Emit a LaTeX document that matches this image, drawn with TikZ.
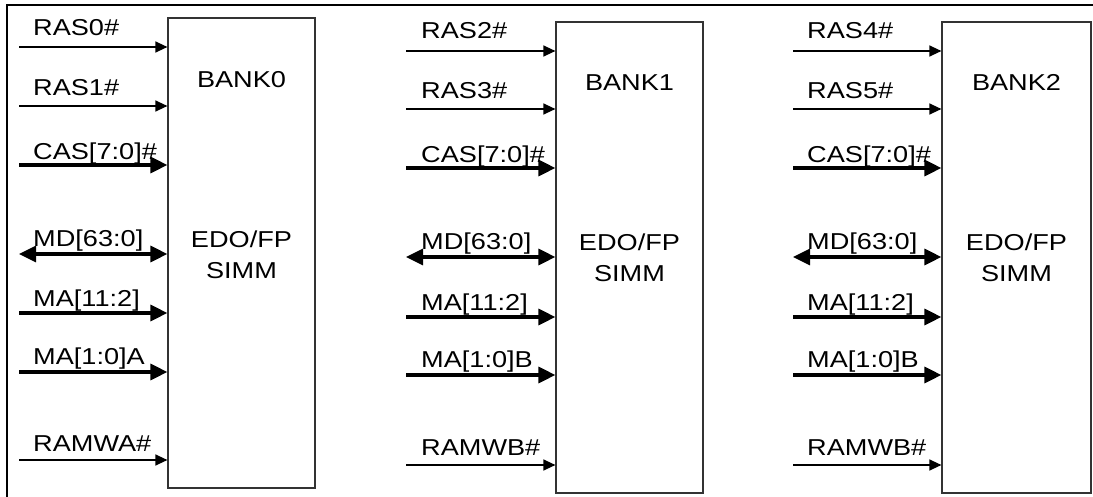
\documentclass[tikz,border=0pt]{standalone}
\usepackage{fontspec}
\setmainfont{Liberation Sans}[FakeStretch=1.18]
\usetikzlibrary{arrows.meta}
\tikzset{
  bankbox/.style={draw=black!80, line width=1.2pt, minimum width=147pt, inner sep=0pt},
  sig/.style={line width=1.3pt, -{Triangle[length=12pt,width=11pt]}},
  bus/.style={line width=3.2pt, -{Triangle[length=17pt,width=16pt]}},
  bibus/.style={line width=3.2pt, {Triangle[length=17pt,width=16pt]}-{Triangle[length=17pt,width=16pt]}},
  lbl/.style={anchor=base west, inner sep=0pt, font=\fontsize{23}{27}\selectfont},
  btxt/.style={anchor=base, inner sep=0pt, font=\fontsize{23}{27}\selectfont, align=center},
}
\begin{document}
\begin{tikzpicture}[x=1pt,y=-1pt]
\useasboundingbox (0,0) rectangle (1093,497);
\draw[line width=2.2pt] (7,497) -- (7,5) -- (1093,5);
% boxes
\node[bankbox, minimum height=470pt] (b0) at (241.5,253) {};
\node[bankbox, minimum height=471pt] (b1) at (629.5,257.5) {};
\node[bankbox, minimum height=471pt, minimum width=149pt] (b2) at (1016.5,257.5) {};
% box texts
\node[btxt] (t0a) at (b0.center |- 0,88) {BANK0};
\node[btxt] (t0b) at (b0.center |- 0,248) {EDO/FP};
\node[btxt] (t0c) at (b0.center |- 0,279) {SIMM};
\node[btxt] (t1a) at (b1.center |- 0,91) {BANK1};
\node[btxt] (t1b) at (b1.center |- 0,251) {EDO/FP};
\node[btxt] (t1c) at (b1.center |- 0,282) {SIMM};
\node[btxt] (t2a) at (b2.center |- 0,91) {BANK2};
\node[btxt] (t2b) at (b2.center |- 0,251) {EDO/FP};
\node[btxt] (t2c) at (b2.center |- 0,282) {SIMM};
% bank 0 signals
\coordinate (a0) at (19,47);
\coordinate (a1) at (19,106);
\coordinate (a2) at (19,165);
\coordinate (a3) at (19,254);
\coordinate (a4) at (19,313);
\coordinate (a5) at (19,372);
\coordinate (a6) at (19,460);
\draw[sig] (a0) -- (a0 -| b0.west);
\draw[sig] (a1) -- (a1 -| b0.west);
\draw[bus] (a2) -- (a2 -| b0.west);
\draw[bibus] (a3) -- (a3 -| b0.west);
\draw[bus] (a4) -- (a4 -| b0.west);
\draw[bus] (a5) -- (a5 -| b0.west);
\draw[sig] (a6) -- (a6 -| b0.west);
\node[lbl] (l00) at (33,36) {RAS0\#};
\node[lbl] (l01) at (33,96) {RAS1\#};
\node[lbl] (l02) at (33,160) {CAS[7:0]\#};
\node[lbl] (l03) at (33,247) {MD[63:0]};
\node[lbl] (l04) at (33,306) {MA[11:2]};
\node[lbl] (l05) at (33,364) {MA[1:0]A};
\node[lbl] (l06) at (33,451) {RAMWA\#};
% bank 1 signals
\coordinate (c0) at (406,51);
\coordinate (c1) at (406,109);
\coordinate (c2) at (406,168);
\coordinate (c3) at (406,257);
\coordinate (c4) at (406,317);
\coordinate (c5) at (406,375);
\coordinate (c6) at (406,465);
\draw[sig] (c0) -- (c0 -| b1.west);
\draw[sig] (c1) -- (c1 -| b1.west);
\draw[bus] (c2) -- (c2 -| b1.west);
\draw[bibus] (c3) -- (c3 -| b1.west);
\draw[bus] (c4) -- (c4 -| b1.west);
\draw[bus] (c5) -- (c5 -| b1.west);
\draw[sig] (c6) -- (c6 -| b1.west);
\node[lbl] (l10) at (421,39) {RAS2\#};
\node[lbl] (l11) at (421,99) {RAS3\#};
\node[lbl] (l12) at (421,163) {CAS[7:0]\#};
\node[lbl] (l13) at (421,250) {MD[63:0]};
\node[lbl] (l14) at (421,310) {MA[11:2]};
\node[lbl] (l15) at (421,367) {MA[1:0]B};
\node[lbl] (l16) at (421,455) {RAMWB\#};
% bank 2 signals
\coordinate (d0) at (793,51);
\coordinate (d1) at (793,109);
\coordinate (d2) at (793,168);
\coordinate (d3) at (793,257);
\coordinate (d4) at (793,317);
\coordinate (d5) at (793,375);
\coordinate (d6) at (793,465);
\draw[sig] (d0) -- (d0 -| b2.west);
\draw[sig] (d1) -- (d1 -| b2.west);
\draw[bus] (d2) -- (d2 -| b2.west);
\draw[bibus] (d3) -- (d3 -| b2.west);
\draw[bus] (d4) -- (d4 -| b2.west);
\draw[bus] (d5) -- (d5 -| b2.west);
\draw[sig] (d6) -- (d6 -| b2.west);
\node[lbl] (l20) at (807,39) {RAS4\#};
\node[lbl] (l21) at (807,99) {RAS5\#};
\node[lbl] (l22) at (807,163) {CAS[7:0]\#};
\node[lbl] (l23) at (807,250) {MD[63:0]};
\node[lbl] (l24) at (807,310) {MA[11:2]};
\node[lbl] (l25) at (807,367) {MA[1:0]B};
\node[lbl] (l26) at (807,455) {RAMWB\#};
\end{tikzpicture}
\end{document}
